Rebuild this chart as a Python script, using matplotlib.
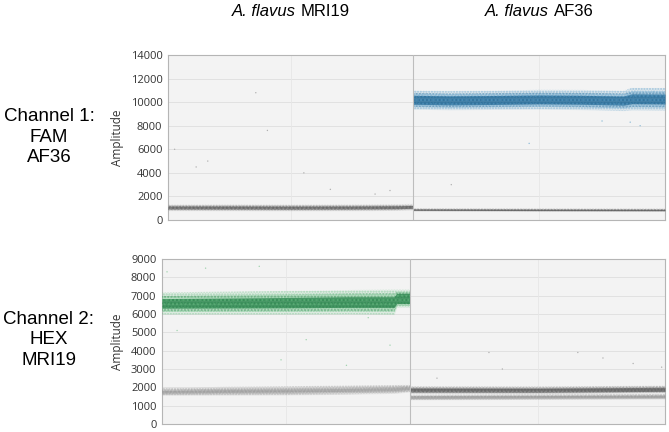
import matplotlib
matplotlib.use("Agg")
import matplotlib.pyplot as plt
import numpy as np

# ---------------- data ----------------
wells = ["A. flavus MRI19", "A. flavus AF36"]
well_events = [14800, 15200]          # droplet events per well (x-extent)
channels = ["Channel 1:\nFAM\nAF36", "Channel 2:\nHEX\nMRI19"]
ch1_ticks = [0, 2000, 4000, 6000, 8000, 10000, 12000, 14000]
ch2_ticks = [0, 1000, 2000, 3000, 4000, 5000, 6000, 7000, 8000, 9000]

# Bands: x = event number knots, c = cloud centre, d = dense half-width, s = sparse half-width
# Channel 1, well MRI19: negative droplets
c1w1_neg_x = [0, 3700, 7400, 11100, 13800, 14800]
c1w1_neg_c = [1060, 1060, 1050, 1060, 1080, 1110]
c1w1_neg_d = [120, 120, 120, 120, 120, 120]
c1w1_neg_s = [260, 270, 270, 270, 270, 260]
# Channel 1, well AF36: positive (FAM) droplets
c1w2_pos_x = [14800, 17000, 19500, 22400, 25000, 27500, 28000, 30000]
c1w2_pos_c = [10200, 10150, 10180, 10230, 10200, 10130, 10280, 10260]
c1w2_pos_d = [380, 380, 380, 380, 380, 380, 420, 420]
c1w2_pos_s = [800, 800, 800, 820, 840, 850, 950, 950]
# Channel 1, well AF36: negative droplets
c1w2_neg_x = [14800, 22400, 30000]
c1w2_neg_c = [880, 860, 850]
c1w2_neg_d = [60, 60, 60]
c1w2_neg_s = [120, 120, 120]

# Channel 2, well MRI19: positive (HEX) droplets
c2w1_pos_x = [0, 3700, 7400, 11100, 13850, 14000, 14800]
c2w1_pos_c = [6580, 6600, 6620, 6650, 6650, 6850, 6850]
c2w1_pos_d = [260, 270, 280, 290, 290, 280, 280]
c2w1_pos_s = [600, 620, 640, 660, 680, 480, 480]
# Channel 2, well MRI19: negative droplets
c2w1_neg_x = [0, 3700, 7400, 11100, 13900, 14800]
c2w1_neg_c = [1760, 1800, 1820, 1860, 1900, 1950]
c2w1_neg_d = [70, 80, 80, 80, 80, 70]
c2w1_neg_s = [200, 230, 240, 240, 230, 200]
# Channel 2, well AF36: negative droplets (two sub-bands)
c2w2_hi_x = [14800, 22400, 30000]
c2w2_hi_c = [1860, 1850, 1890]
c2w2_hi_d = [110, 110, 110]
c2w2_hi_s = [200, 200, 200]
c2w2_lo_x = [14800, 22400, 30000]
c2w2_lo_c = [1460, 1480, 1500]
c2w2_lo_d = [70, 70, 70]
c2w2_lo_s = [140, 140, 140]

# Isolated outlier droplets (event number, amplitude)
c1_out_x = [400, 1700, 5300, 6000, 2400, 8200, 9800, 12500, 17100, 21800, 26200, 27900, 28500, 29300, 13400]
c1_out_y = [6000, 4500, 10800, 7600, 5000, 4000, 2600, 2200, 3000, 6500, 8400, 8300, 8000, 10900, 2500]
c1_out_cat = ["g", "g", "g", "g", "g", "g", "g", "g", "g", "b", "b", "b", "b", "b", "g"]
c2_out_x = [300, 900, 2600, 5800, 7100, 8600, 11000, 12300, 13600, 19500, 24800, 26300, 28100, 29800, 20300, 16400]
c2_out_y = [8300, 5100, 8500, 8600, 3500, 4600, 3200, 5800, 4300, 3900, 3900, 3600, 3300, 3100, 3000, 2500]
c2_out_cat = ["g", "g", "g", "g", "g", "g", "g", "g", "g", "k", "k", "k", "k", "k", "k", "k"]

# ---------------- style ----------------
BLUE_D, BLUE_L = "#17608f", "#5a9ec9"
GREEN_D, GREEN_L = "#1b7a40", "#6cc085"
GRAY_D, GRAY_L = "#505050", "#9a9a9a"
BG = "#f3f3f3"
GRID = "#dedede"
SPINE = "#b5b5b5"

fig = plt.figure(figsize=(6.69, 4.32), dpi=100)
ax1 = fig.add_axes([168 / 669, 1 - 220 / 432, 497 / 669, 165 / 432])
ax2 = fig.add_axes([162 / 669, 1 - 424 / 432, 503 / 669, 165 / 432])

total = sum(well_events)
split = well_events[0]


def band(ax, x, c, d, s, cd, cl, core_alpha=0.7):
    x = np.asarray(x, float)
    c = np.asarray(c, float)
    d = np.asarray(d, float)
    s = np.asarray(s, float)
    # sparse halo
    ax.fill_between(x, c - s, c + s, color=cl, alpha=0.15, lw=0, zorder=3)
    ax.fill_between(x, c - s, c + s, facecolor="none", edgecolor=cl, hatch="......",
                    lw=0, alpha=0.45, zorder=3)
    # intermediate
    mid = (d + s) / 2
    ax.fill_between(x, c - mid, c + mid, color=cl, alpha=0.35, lw=0, zorder=4)
    ax.fill_between(x, c - mid, c + mid, facecolor="none", edgecolor=cd, hatch=".....",
                    lw=0, alpha=0.35, zorder=4)
    # dense core
    ax.fill_between(x, c - d, c + d, color=cd, alpha=core_alpha, lw=0, zorder=5)
    ax.fill_between(x, c - d, c + d, facecolor="none", edgecolor=cl, hatch="....",
                    lw=0, alpha=0.45, zorder=6)


def style(ax, ticks):
    ax.set_facecolor(BG)
    ax.set_xlim(0, total)
    ax.set_ylim(ticks[0], ticks[-1])
    ax.set_yticks(ticks)
    ax.set_xticks([])
    ax.tick_params(axis="y", length=0, pad=4, labelsize=8, labelcolor="#333333")
    for lab in ax.get_yticklabels():
        lab.set_family("Open Sans")
    for sp in ax.spines.values():
        sp.set_color(SPINE)
        sp.set_linewidth(0.8)
    for t in ticks[1:-1]:
        ax.axhline(t, color=GRID, lw=0.6, zorder=1)
    ax.axvline(well_events[0] / 2, color="#e6e6e6", lw=0.6, zorder=1)
    ax.axvline(split + well_events[1] / 2, color="#e6e6e6", lw=0.6, zorder=1)
    ax.axvline(split, color="#bdbdbd", lw=0.8, zorder=7)
    ax.set_ylabel("Amplitude", family="Open Sans", fontsize=8.5, color="#333333", labelpad=5)


style(ax1, ch1_ticks)
style(ax2, ch2_ticks)

band(ax1, c1w1_neg_x, c1w1_neg_c, c1w1_neg_d, c1w1_neg_s, GRAY_D, GRAY_L)
band(ax1, c1w2_pos_x, c1w2_pos_c, c1w2_pos_d, c1w2_pos_s, BLUE_D, BLUE_L)
band(ax1, c1w2_neg_x, c1w2_neg_c, c1w2_neg_d, c1w2_neg_s, GRAY_D, GRAY_L)

band(ax2, c2w1_pos_x, c2w1_pos_c, c2w1_pos_d, c2w1_pos_s, GREEN_D, GREEN_L)
band(ax2, c2w1_neg_x, c2w1_neg_c, c2w1_neg_d, c2w1_neg_s, GRAY_L, GRAY_L, core_alpha=0.5)
band(ax2, c2w2_lo_x, c2w2_lo_c, c2w2_lo_d, c2w2_lo_s, GRAY_L, GRAY_L, core_alpha=0.6)
band(ax2, c2w2_hi_x, c2w2_hi_c, c2w2_hi_d, c2w2_hi_s, GRAY_D, GRAY_L)

cmap = {"g": "#b0b0b0", "b": "#8fbcd8", "k": "#b0b0b0"}
ax1.scatter(c1_out_x, c1_out_y, s=1.0, c=[cmap[k] for k in c1_out_cat], lw=0, zorder=8)
cmap2 = {"g": "#9fd3ad", "k": "#b0b0b0"}
ax2.scatter(c2_out_x, c2_out_y, s=1.0, c=[cmap2[k] for k in c2_out_cat], lw=0, zorder=8)

# column titles
for i, name in enumerate(wells):
    species, strain = name.rsplit(" ", 1)
    xc = (well_events[0] / 2 if i == 0 else split + well_events[1] / 2) / total
    xfig = ax1.get_position().x0 + xc * ax1.get_position().width
    fig.text(xfig, 1 - 12 / 432, species + " ", ha="right", va="center", fontsize=12,
             family="Liberation Sans", style="italic")
    fig.text(xfig, 1 - 12 / 432, strain, ha="left", va="center", fontsize=12,
             family="Liberation Sans")

# recenter titles: shift each pair so the combined text is centred on the well
fig.canvas.draw()
r = fig.canvas.get_renderer()
texts = list(fig.texts)
for i in range(0, len(texts), 2):
    a, b = texts[i], texts[i + 1]
    ba = a.get_window_extent(r)
    bb = b.get_window_extent(r)
    full_w = bb.x1 - ba.x0
    centre = ba.x1
    target_left = centre - full_w / 2
    shift = (target_left - ba.x0) / fig.bbox.width
    a.set_x(a.get_position()[0] + shift)
    b.set_x(b.get_position()[0] + shift)

fig.text(49 / 669, 1 - 137 / 432, channels[0], ha="center", va="center", fontsize=13.5,
         family="Liberation Sans", linespacing=1.25)
fig.text(49 / 669, 1 - 340 / 432, channels[1], ha="center", va="center", fontsize=13.5,
         family="Liberation Sans", linespacing=1.25)

fig.savefig("out.png", dpi=100, facecolor="white")
